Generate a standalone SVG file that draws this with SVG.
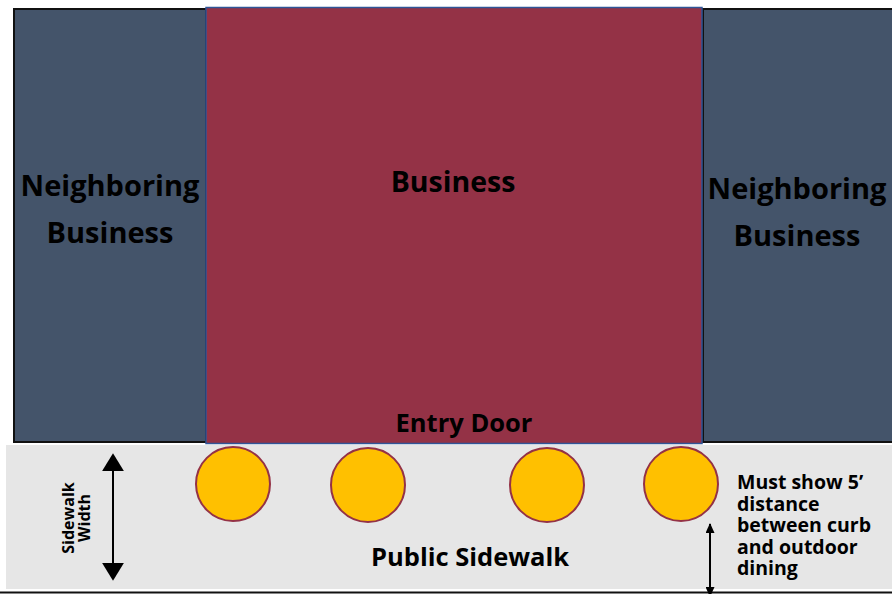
<svg xmlns="http://www.w3.org/2000/svg" width="892" height="594" viewBox="0 0 892 594">
<defs>
<style>
.nb{fill:#44546a;stroke:#111;stroke-width:2}
.t{font-family:"Open Sans","Liberation Sans",sans-serif;font-weight:700;fill:#000;text-anchor:middle}
.seat{fill:#ffc000;stroke:#943246;stroke-width:2}
.ln{stroke:#000;stroke-width:2;fill:none}
</style>
<marker id="ah" viewBox="0 0 10 10" refX="9" refY="5" markerWidth="10" markerHeight="9" markerUnits="userSpaceOnUse" orient="auto-start-reverse" preserveAspectRatio="none"><path d="M0,0L10,5L0,10z" fill="#000"/></marker>
<marker id="big" viewBox="0 0 10 10" refX="9" refY="5" markerWidth="18" markerHeight="22" markerUnits="userSpaceOnUse" orient="auto-start-reverse" preserveAspectRatio="none"><path d="M0,0L10,5L0,10z" fill="#000"/></marker>
</defs>
<rect x="0" y="0" width="892" height="594" fill="#fff"/>
<g id="sidewalk">
<rect x="6" y="445" width="886" height="144" fill="#e6e6e6"/>
<line x1="0" y1="592.5" x2="892" y2="592.5" stroke="#111" stroke-width="2"/>
<text class="t" x="470" y="566" font-size="25.5">Public Sidewalk</text>
</g>
<g id="neighbor-left">
<rect class="nb" x="14" y="9" width="192" height="433"/>
<text class="t" x="110" y="196" font-size="29">Neighboring</text>
<text class="t" x="110" y="243" font-size="29">Business</text>
</g>
<g id="neighbor-right">
<rect class="nb" x="703" y="9" width="195" height="433"/>
<text class="t" x="797" y="199" font-size="29">Neighboring</text>
<text class="t" x="797" y="246" font-size="29">Business</text>
</g>
<g id="business">
<rect x="206" y="7.5" width="496" height="436" fill="#943246" stroke="#2f5597" stroke-width="1.5"/>
<text class="t" x="453" y="192" font-size="28.5">Business</text>
<text class="t" x="464" y="432" font-size="25.5">Entry Door</text>
</g>
<g id="seating">
<circle class="seat" cx="233" cy="484" r="37"/>
<circle class="seat" cx="368" cy="485" r="37"/>
<circle class="seat" cx="547" cy="485" r="37"/>
<circle class="seat" cx="681" cy="484" r="37"/>
</g>
<g id="connectors">
<line class="ln" x1="113" y1="455" x2="113" y2="579" marker-start="url(#big)" marker-end="url(#big)"/>
<line class="ln" x1="710" y1="524" x2="710" y2="596" stroke-width="1.5" marker-start="url(#ah)" marker-end="url(#ah)"/>
</g>
<g id="labels">
<text class="t" font-size="16" transform="translate(75,518) rotate(-90)"><tspan x="0" y="-1">Sidewalk</tspan><tspan x="0" y="15">Width</tspan></text>
<text font-family="Open Sans,Liberation Sans,sans-serif" font-weight="700" font-size="19.5" fill="#000">
<tspan x="737" y="489">Must show 5’</tspan>
<tspan x="737" y="511">distance</tspan>
<tspan x="737" y="532">between curb</tspan>
<tspan x="737" y="554">and outdoor</tspan>
<tspan x="737" y="575">dining</tspan>
</text>
</g>
</svg>
